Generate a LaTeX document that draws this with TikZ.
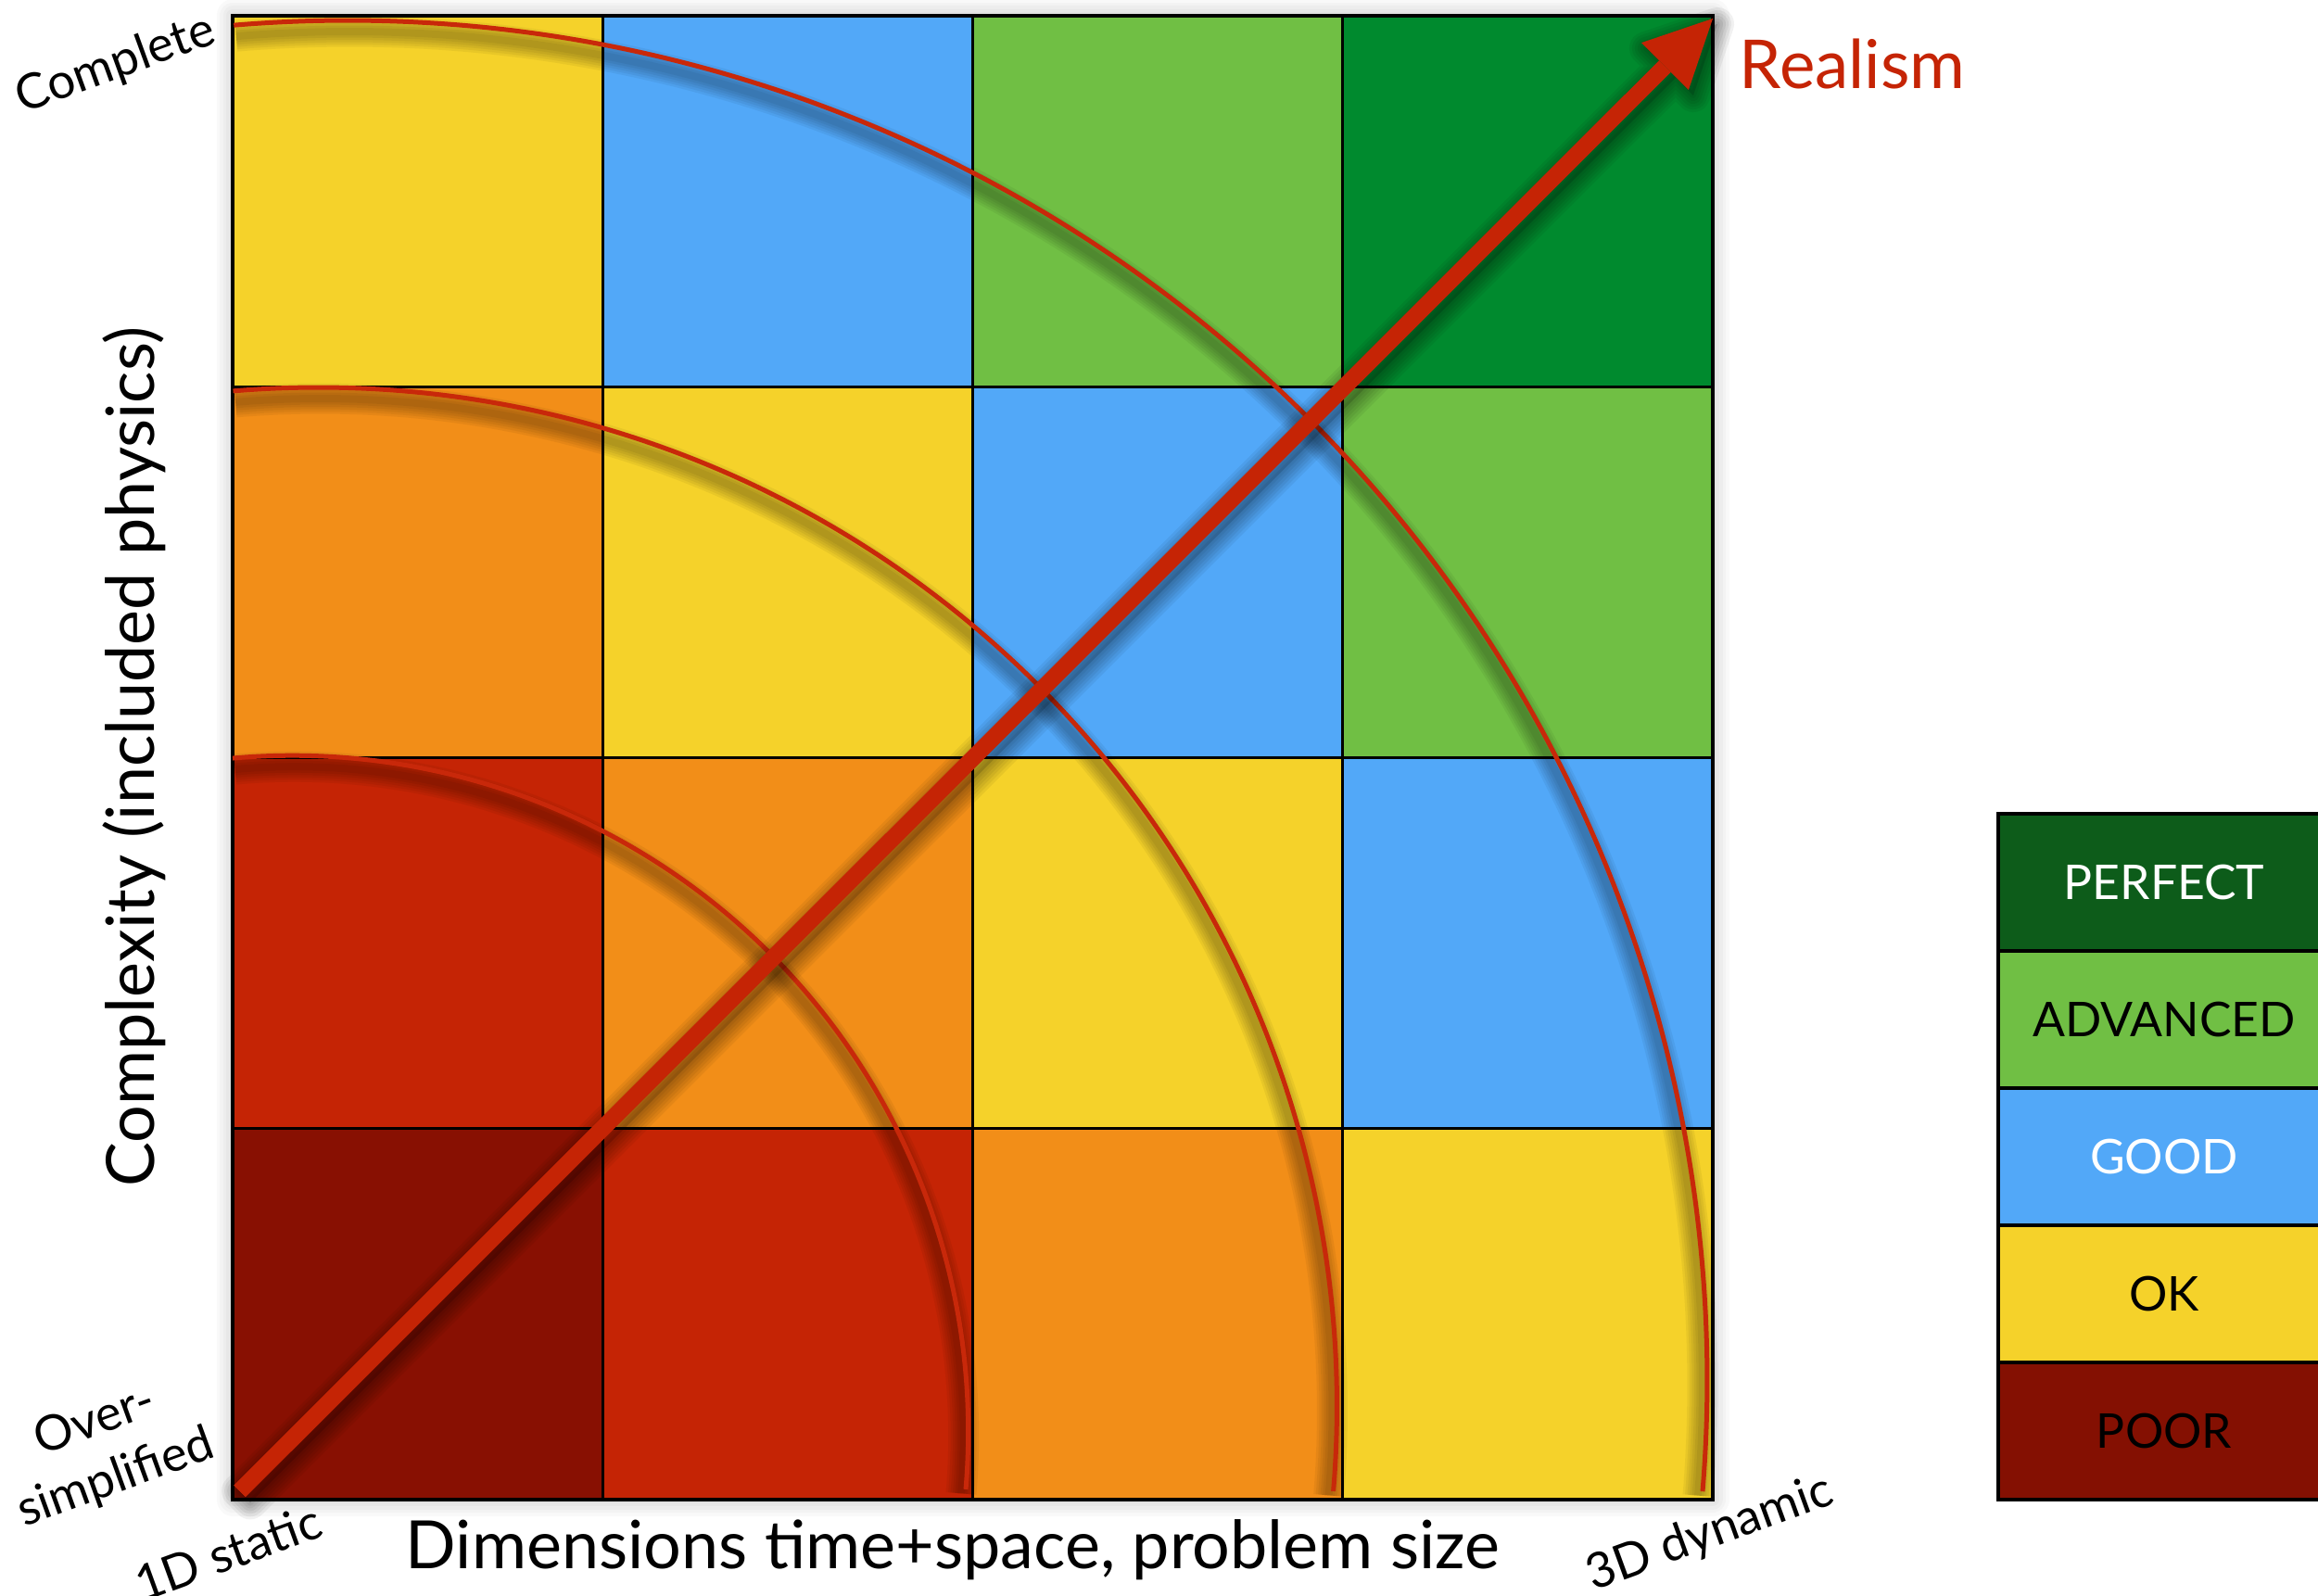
\documentclass[tikz,border=0pt]{standalone}
\usepackage{fontspec}
\setmainfont{Lato}
\usetikzlibrary{arrows.meta}
\definecolor{lv0}{HTML}{881002}
\definecolor{lv1}{HTML}{C52405}
\definecolor{lv2}{HTML}{F28E18}
\definecolor{lv3}{HTML}{F5D22A}
\definecolor{lv4}{HTML}{52A8F8}
\definecolor{lv5}{HTML}{70BF44}
\definecolor{lv6}{HTML}{008A2E}
\definecolor{perfectgreen}{HTML}{0D5C1A}
\definecolor{poorred}{HTML}{841002}
\definecolor{arcred}{HTML}{C8280A}
\definecolor{arrowred}{HTML}{C52405}
\tikzset{
  gridline/.style={black, line width=0.9pt},
  arcline/.style={arcred, line width=0.05cm},
  cornerlabel/.style={rotate=20, font=\fontsize{15}{18.7}\selectfont, inner sep=0pt},
  axislabel/.style={font=\fontsize{20.45}{24}\selectfont, inner sep=0pt},
  legendtext/.style={font=\fontsize{14.7}{17}\selectfont, inner sep=0pt},
}
\newcommand{\shadowarc}[5]{%
  \foreach \k in {1,...,6}{%
    \pgfmathsetmacro\lw{0.03+\k*0.05}%
    \pgfmathsetmacro\rr{#3-0.07}%
    \draw[black, opacity=0.05, line width=\lw cm] (#1+0.02,#2-0.05) ++(#4:\rr) arc[start angle=#4, end angle=#5, radius=\rr];
  }%
}
\begin{document}
\begin{tikzpicture}
\useasboundingbox (0,0) rectangle (25.01,17.21);
\clip (0,0) rectangle (25.01,17.21);
\def\cw{3.9925}\def\ch{4.0025}
% soft halo round the grid
\foreach \k in {1,...,5}{\pgfmathsetmacro\lw{\k*0.07}
  \draw[black, opacity=0.025, line width=\lw cm, line join=round] (2.51,1.03) rectangle (18.48,17.04);}
% cells
\foreach \i in {0,...,3}{\foreach \j in {0,...,3}{
  \pgfmathtruncatemacro\lv{\i+\j}
  \fill[lv\lv] (2.51+\i*\cw, 1.03+\j*\ch) rectangle ++(\cw,\ch);
}}
% grid lines
\foreach \i in {1,2,3}{
  \draw[gridline] (2.51+\i*\cw,1.03) -- (2.51+\i*\cw,17.04);
  \draw[gridline] (2.51,1.03+\i*\ch) -- (18.48,1.03+\i*\ch);
}
\draw[black, line width=1.1pt] (2.51,1.03) rectangle (18.48,17.04);
% arcs with shadows
\shadowarc{3.153}{1.764}{7.294}{95.06}{-4.9}
\shadowarc{3.435}{2.04}{10.99}{94.8}{-4.8}
\shadowarc{3.75}{2.32}{14.67}{94.8}{-4.7}
\coordinate (innerc) at (3.153,1.764);
\coordinate (middlec) at (3.435,2.04);
\coordinate (outerc) at (3.75,2.32);
\draw[arcline] (innerc) ++(95.06:7.294) arc[start angle=95.06, end angle=-4.9, radius=7.294];
\draw[arcline] (middlec) ++(94.8:10.99) arc[start angle=94.8, end angle=-4.8, radius=10.99];
\draw[arcline] (outerc) ++(94.8:14.67) arc[start angle=94.8, end angle=-4.7, radius=14.67];
% arrow shadow
\fill[black, opacity=0.14, shift={(0.05,-0.06)}] (2.521,1.184) -- (17.900,16.558) -- (17.709,16.749) -- (18.48,17.01) -- (18.219,16.239) -- (18.028,16.430) -- (2.649,1.056) -- cycle;
\foreach \k in {1,...,6}{\pgfmathsetmacro\lw{\k*0.06}
  \draw[black, opacity=0.055, line width=\lw cm, line join=round, shift={(0.05,-0.06)}] (2.521,1.184) -- (17.900,16.558) -- (17.709,16.749) -- (18.48,17.01) -- (18.219,16.239) -- (18.028,16.430) -- (2.649,1.056) -- cycle;}
% arrow
\coordinate (arrowstart) at (2.585,1.12);
\coordinate (arrowtip) at (18.48,17.01);
\draw[arrowred, line width=0.18cm, -{Triangle[length=7.3mm, width=7.2mm, line width=0pt]}] (arrowstart) -- (arrowtip);
% labels
\node[axislabel, font=\fontsize{20.7}{24}\selectfont, text=arrowred, anchor=base west] (realism) at (18.76,16.25) {Realism};
\node[axislabel, anchor=base] (xlabel) at (10.28,0.29) {Dimensions time+space, problem size};
\node[axislabel, rotate=90, anchor=base] (ylabel) at (1.66,9.045) {Complexity (included physics)};
\node[cornerlabel] (complete) at (1.25,16.51) {Complete};
\node[cornerlabel, align=center] (oversimp) at (1.14,1.56) {Over-\\simplified};
\node[cornerlabel] (onestatic) at (2.46,0.46) {1D static};
\node[cornerlabel] (threedyn) at (18.45,0.66) {3D dynamic};
% legend
\foreach \name/\col/\txt/\tc [count=\n from 0] in {perfect/perfectgreen/PERFECT/white, advanced/lv5/ADVANCED/black, good/lv4/GOOD/white, ok/lv3/OK/black, poor/poorred/POOR/black}{
  \pgfmathsetmacro\ytop{8.43-\n*1.48}
  \fill[\col] (21.56,\ytop) rectangle (25.14,\ytop-1.48);
  \node[legendtext, text=\tc] (\name) at (23.35,\ytop-0.74) {\txt};
}
\foreach \y in {6.95,5.47,3.99,2.51}{\draw[gridline] (21.56,\y) -- (25.14,\y);}
\draw[gridline] (21.56,8.43) rectangle (25.14,1.03);
\end{tikzpicture}
\end{document}
